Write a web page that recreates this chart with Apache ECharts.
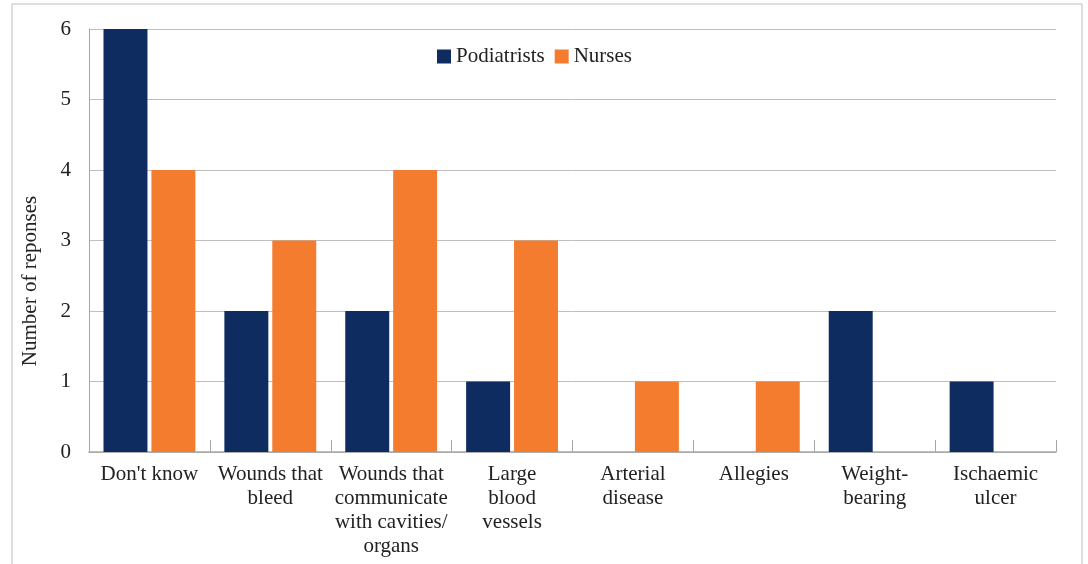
<!DOCTYPE html>
<html><head><meta charset="utf-8">
<script src="https://cdn.jsdelivr.net/npm/echarts@6/dist/echarts.min.js"></script>
<style>html,body{margin:0;padding:0;background:#fff}#c{width:1088px;height:564px}</style>
</head><body><div id="c"></div>
<script>
var categories = ["Don't know", "Wounds that\nbleed", "Wounds that\ncommunicate\nwith cavities/\norgans", "Large\nblood\nvessels", "Arterial\ndisease", "Allegies", "Weight-\nbearing", "Ischaemic\nulcer"];
var podiatrists = [6, 2, 2, 1, 0, 0, 2, 1];
var nurses = [4, 3, 4, 3, 1, 1, 0, 0];
var yTicks = [0, 1, 2, 3, 4, 5, 6];
var yTitle = 'Number of reponses';
var font = "Liberation Serif";
var chart = echarts.init(document.getElementById('c'));
chart.setOption({
  animation: false,
  textStyle: {fontFamily: font},
  graphic: [
    {type: 'rect', shape: {x: 12, y: 4, width: 1070, height: 600}, style: {fill: 'none', stroke: '#bdbdbd', lineWidth: 1}},
    {type: 'text', x: 30, y: 281, rotation: Math.PI / 2, style: {text: yTitle, font: '21px "Liberation Serif"', fill: '#222', align: 'center', verticalAlign: 'middle'}}
  ],
  legend: {
    top: 41, left: 432, itemWidth: 14, itemHeight: 14, itemGap: 10,
    icon: 'rect',
    textStyle: {fontFamily: font, fontSize: 21, color: '#222'},
    data: ['Podiatrists', 'Nurses']
  },
  grid: {left: 89, right: 32, top: 29, bottom: 112, containLabel: false},
  xAxis: {
    type: 'category', data: categories,
    axisLine: {lineStyle: {color: '#a6a6a6', width: 1.5}},
    axisTick: {show: true, inside: true, length: 12, lineStyle: {color: '#a6a6a6'}},
    axisLabel: {fontFamily: font, fontSize: 21, color: '#222', margin: 10, lineHeight: 24, interval: 0}
  },
  yAxis: {
    type: 'value', min: yTicks[0], max: yTicks[yTicks.length - 1], interval: 1,
    axisLine: {show: true, lineStyle: {color: '#a6a6a6'}},
    axisTick: {show: false},
    axisLabel: {fontFamily: font, fontSize: 21, color: '#222', margin: 18},
    splitLine: {lineStyle: {color: '#bfbfbf', width: 1}}
  },
  series: [
    {name: 'Podiatrists', type: 'bar', data: podiatrists, itemStyle: {color: '#0f2c61'}, barGap: '9%', barCategoryGap: '24%'},
    {name: 'Nurses', type: 'bar', data: nurses, itemStyle: {color: '#f47c2e'}}
  ]
});
</script></body></html>
